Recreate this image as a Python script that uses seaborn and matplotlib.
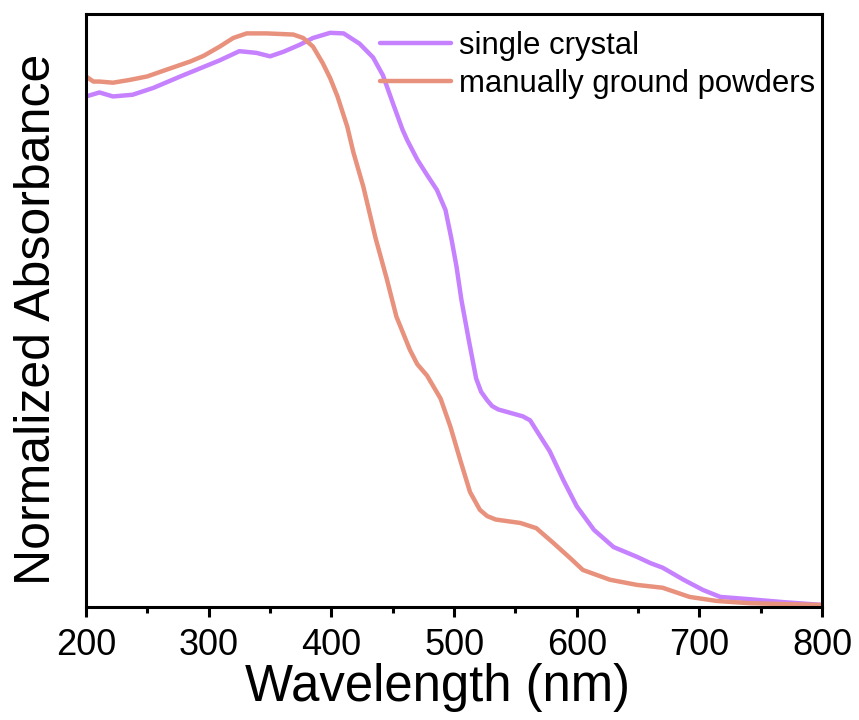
import matplotlib
matplotlib.use("Agg")
import matplotlib.pyplot as plt
import seaborn as sns
import pandas as pd
from matplotlib.ticker import MultipleLocator

sns.set_theme(style="ticks")
plt.rcParams['font.family'] = ['Liberation Sans', 'DejaVu Sans']
plt.rcParams['text.color'] = 'black'
plt.rcParams['axes.labelcolor'] = 'black'
plt.rcParams['xtick.color'] = 'black'
plt.rcParams['ytick.color'] = 'black'

# single crystal
sc_wl = [200, 211, 222, 238, 255, 277, 293, 309, 325, 339, 350, 361, 374, 385, 399, 410,
         423, 434, 442, 450, 458, 462, 470, 478, 486, 493, 498, 502, 506, 512, 518, 522,
         527, 531, 536, 546, 556, 562, 567, 578, 589, 600, 614, 630, 649, 660, 670, 687,
         703, 717, 741, 768, 800]
sc_abs = [0.887, 0.894, 0.887, 0.890, 0.902, 0.922, 0.936, 0.950, 0.966, 0.963, 0.957, 0.965,
          0.977, 0.989, 0.998, 0.997, 0.979, 0.955, 0.924, 0.876, 0.829, 0.810, 0.777, 0.750,
          0.724, 0.689, 0.637, 0.590, 0.532, 0.462, 0.395, 0.372, 0.357, 0.347, 0.341, 0.335,
          0.329, 0.322, 0.305, 0.268, 0.218, 0.172, 0.131, 0.101, 0.084, 0.073, 0.065, 0.044,
          0.026, 0.014, 0.010, 0.005, 0.000]

# manually ground powders
mg_wl = [200, 206, 211, 222, 236, 250, 266, 285, 296, 309, 320, 331, 347, 369, 377, 385,
         393, 399, 405, 413, 418, 426, 436, 445, 453, 464, 470, 478, 489, 497, 505, 513,
         521, 527, 534, 554, 567, 581, 595, 605, 627, 649, 670, 692, 714, 741, 800]
mg_abs = [0.922, 0.913, 0.913, 0.911, 0.916, 0.922, 0.934, 0.948, 0.958, 0.974, 0.989, 0.997,
          0.997, 0.995, 0.989, 0.974, 0.945, 0.919, 0.887, 0.834, 0.789, 0.730, 0.640, 0.570,
          0.503, 0.445, 0.420, 0.400, 0.360, 0.311, 0.253, 0.197, 0.166, 0.155, 0.149, 0.143,
          0.134, 0.108, 0.081, 0.061, 0.044, 0.035, 0.030, 0.014, 0.007, 0.003, 0.000]

labels = ["single crystal", "manually ground powders"]
colors = ["#C681FF", "#E8917C"]

df_sc = pd.DataFrame({"wl": sc_wl, "abs": sc_abs, "sample": labels[0]})
df_mg = pd.DataFrame({"wl": mg_wl, "abs": mg_abs, "sample": labels[1]})

fig = plt.figure(figsize=(8.59, 7.2), dpi=100)
ax = fig.add_axes([0.1001, 0.157, 0.857, 0.824])

sns.lineplot(data=df_sc, x="wl", y="abs", color=colors[0], lw=3.2, ax=ax,
             label=labels[0], sort=False, estimator=None)
sns.lineplot(data=df_mg, x="wl", y="abs", color=colors[1], lw=3.2, ax=ax,
             label=labels[1], sort=False, estimator=None)

ax.set_xlim(200, 800)
ax.set_ylim(-0.0035, 1.0314)
ax.xaxis.set_major_locator(MultipleLocator(100))
ax.xaxis.set_minor_locator(MultipleLocator(50))
ax.set_yticks([])
ax.tick_params(axis='x', which='major', direction='out', length=7, width=2.2,
               labelsize=26, pad=8, colors='black')
ax.tick_params(axis='x', which='minor', direction='out', length=4, width=2.2)
for s in ax.spines.values():
    s.set_linewidth(2.2)
    s.set_color('black')

ax.set_xlabel("Wavelength (nm)", fontsize=36.6, labelpad=0)
ax.set_ylabel("Normalized Absorbance", fontsize=36, labelpad=19)
ax.xaxis.label.set_x(0.477)
ax.yaxis.label.set_y(0.484)

h, l = ax.get_legend_handles_labels()
ax.legend(h, l, loc='upper right', bbox_to_anchor=(1.0136, 1.0), frameon=False,
          fontsize=22.4, handlelength=2.3, handletextpad=0.25, labelspacing=0.26,
          borderaxespad=0.15)

fig.savefig("out.png", dpi=100)
